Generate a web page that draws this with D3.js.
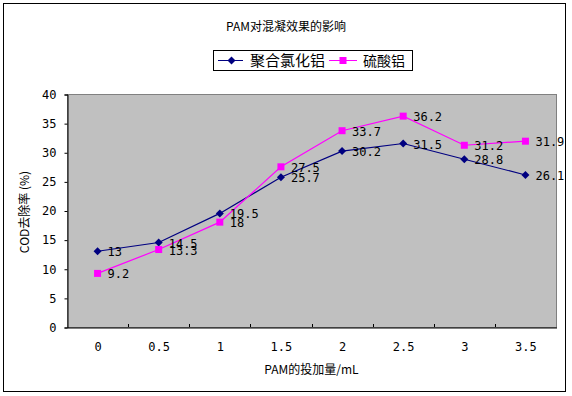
<!DOCTYPE html>
<html>
<head>
<meta charset="utf-8">
<script src="https://cdn.jsdelivr.net/npm/d3@7"></script>
<style>
  body { margin: 0; background: #fff; }
  svg text { fill: #000; }
</style>
</head>
<body>
<div id="chart"></div>
<script>
const width = 572;
const height = 396;

const doses = ["0", "0.5", "1", "1.5", "2", "2.5", "3", "3.5"];
const pacValues = [13, 14.5, 19.5, 25.7, 30.2, 31.5, 28.8, 26.1];
const alumValues = [9.2, 13.3, 18, 27.5, 33.7, 36.2, 31.2, 31.9];
const seriesNames = ["聚合氯化铝", "硫酸铝"];
const yTicks = [0, 5, 10, 15, 20, 25, 30, 35, 40];

const plot = { left: 67, right: 556, top: 94, bottom: 327 };
const cnFont = "'Noto Sans CJK SC', sans-serif";
const numFont = "'DejaVu Sans Mono', monospace";

const svg = d3
  .select("#chart")
  .append("svg")
  .attr("width", width)
  .attr("height", height);

// outer chart border
svg
  .append("rect")
  .attr("x", 3.5)
  .attr("y", 3.5)
  .attr("width", 562)
  .attr("height", 388)
  .attr("fill", "#fff")
  .attr("stroke", "#000")
  .attr("stroke-width", 1);

const xScale = d3
  .scaleBand()
  .domain(doses)
  .range([plot.left, plot.right]);

const yScale = d3
  .scaleLinear()
  .domain([0, 40])
  .range([plot.bottom, plot.top]);

// plot area
svg
  .append("rect")
  .attr("x", plot.left + 0.5)
  .attr("y", plot.top + 0.5)
  .attr("width", plot.right - plot.left)
  .attr("height", plot.bottom - plot.top)
  .attr("fill", "#c0c0c0")
  .attr("stroke", "#808080");

// y axis
const yAxis = d3.axisLeft(yScale).tickValues(yTicks).tickSize(3).tickPadding(8);
const yG = svg
  .append("g")
  .attr("transform", `translate(${plot.left + 0.5},0.5)`)
  .call(yAxis);
yG.select(".domain").attr("stroke", "#000");
yG.selectAll("text")
  .attr("font-family", numFont)
  .attr("font-size", 12)
  .attr("fill", "#000");

// x axis, ticks point inward between categories
const xAxis = d3.axisBottom(xScale).tickSize(0).tickPadding(15);
const xG = svg
  .append("g")
  .attr("transform", `translate(0.5,${plot.bottom + 0.5})`)
  .call(xAxis);
xG.select(".domain").attr("stroke", "#000");
xG.selectAll("text")
  .attr("font-family", numFont)
  .attr("font-size", 12)
  .attr("fill", "#000");

svg
  .append("g")
  .selectAll("line")
  .data(doses.slice(1))
  .enter()
  .append("line")
  .attr("x1", (d) => Math.round(xScale(d)) + 0.5)
  .attr("x2", (d) => Math.round(xScale(d)) + 0.5)
  .attr("y1", plot.bottom)
  .attr("y2", plot.bottom - 3)
  .attr("stroke", "#000");

// axis titles
svg
  .append("text")
  .attr("x", (plot.left + plot.right) / 2)
  .attr("y", 374)
  .attr("text-anchor", "middle")
  .attr("font-family", cnFont)
  .attr("font-size", 12)
  .text("PAM的投加量/mL");

svg
  .append("text")
  .attr("transform", "translate(29,212) rotate(-90)")
  .attr("text-anchor", "middle")
  .attr("font-family", cnFont)
  .attr("font-size", 12)
  .text("COD去除率 (%)");

// title
svg
  .append("text")
  .attr("x", 286)
  .attr("y", 31)
  .attr("text-anchor", "middle")
  .attr("font-family", cnFont)
  .attr("font-size", 12)
  .text("PAM对混凝效果的影响");

const cx = (i) => xScale(doses[i]) + xScale.bandwidth() / 2;

function diamond(x, y) {
  return `M${x},${y - 4}L${x + 4},${y}L${x},${y + 4}L${x - 4},${y}Z`;
}

function drawSeries(values, color, marker) {
  const line = d3
    .line()
    .x((d, i) => cx(i))
    .y((d) => yScale(d));

  svg
    .append("path")
    .datum(values)
    .attr("d", line)
    .attr("fill", "none")
    .attr("stroke", color)
    .attr("stroke-width", 1.2);

  if (marker === "diamond") {
    svg
      .append("g")
      .selectAll("path")
      .data(values)
      .enter()
      .append("path")
      .attr("d", (d, i) => diamond(cx(i), yScale(d)))
      .attr("fill", color);
  } else {
    svg
      .append("g")
      .selectAll("rect")
      .data(values)
      .enter()
      .append("rect")
      .attr("x", (d, i) => cx(i) - 3.5)
      .attr("y", (d) => yScale(d) - 3.5)
      .attr("width", 7)
      .attr("height", 7)
      .attr("fill", color);
  }
}

drawSeries(pacValues, "#000080", "diamond");
drawSeries(alumValues, "#ff00ff", "square");

// data labels
function drawLabels(values) {
  svg
    .append("g")
    .selectAll("text")
    .data(values)
    .enter()
    .append("text")
    .attr("x", (d, i) => cx(i) + 10)
    .attr("y", (d) => yScale(d) + 5)
    .attr("font-family", numFont)
    .attr("font-size", 12)
    .text((d) => d);
}

drawLabels(pacValues);
drawLabels(alumValues);

// legend
const legend = svg.append("g");
legend
  .append("rect")
  .attr("x", 213.5)
  .attr("y", 50.5)
  .attr("width", 199)
  .attr("height", 20)
  .attr("fill", "#fff")
  .attr("stroke", "#000");

legend
  .append("line")
  .attr("x1", 218)
  .attr("x2", 243)
  .attr("y1", 60.5)
  .attr("y2", 60.5)
  .attr("stroke", "#000080");
legend
  .append("path")
  .attr("d", diamond(231.5, 60.5))
  .attr("fill", "#000080");
legend
  .append("text")
  .attr("x", 250)
  .attr("y", 66)
  .attr("font-family", cnFont)
  .attr("font-size", 15)
  .text(seriesNames[0]);

legend
  .append("line")
  .attr("x1", 329)
  .attr("x2", 357)
  .attr("y1", 60.5)
  .attr("y2", 60.5)
  .attr("stroke", "#ff00ff");
legend
  .append("rect")
  .attr("x", 339.5)
  .attr("y", 57)
  .attr("width", 7)
  .attr("height", 7)
  .attr("fill", "#ff00ff");
legend
  .append("text")
  .attr("x", 363)
  .attr("y", 66)
  .attr("font-family", cnFont)
  .attr("font-size", 14)
  .text(seriesNames[1]);
</script>
</body>
</html>
